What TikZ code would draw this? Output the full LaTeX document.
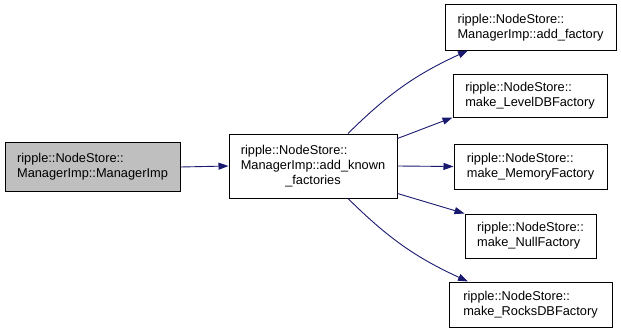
\documentclass[tikz,border=0pt]{standalone}
\usepackage{fontspec}
\setmainfont{Liberation Sans}
\usetikzlibrary{arrows.meta}
\definecolor{cedge}{HTML}{191970}
\definecolor{cgrey}{HTML}{BFBFBF}

\begin{document}
\begin{tikzpicture}[x=1pt,y=1pt,
  fn/.style={draw=black,fill=white,line width=1pt,align=left,
    font=\fontsize{12.8}{15}\selectfont,inner xsep=9pt,minimum height=45pt},
  call/.style={-{Triangle[length=10pt,width=7pt]},draw=cedge,line width=0.9pt}]
  \useasboundingbox (0,0) rectangle (621,333);
  \node[fn,fill=cgrey,minimum width=175pt,minimum height=49pt] (ctor) at (92.5,166)
    {ripple::NodeStore::\\ManagerImp::ManagerImp};
  \node[fn,minimum width=168pt,minimum height=64pt] (known) at (313,167)
    {\begin{tabular}{@{}l@{}}ripple::NodeStore::\\ManagerImp::add\_known\\
      \multicolumn{1}{@{}c@{}}{\_factories}\end{tabular}};
  \node[fn,minimum width=171pt] (fac) at (530.5,305.5) {ripple::NodeStore::\\ManagerImp::add\_factory};
  \node[fn,minimum width=154pt,minimum height=43pt] (leveldb) at (530,237.5) {ripple::NodeStore::\\make\_LevelDBFactory};
  \node[fn,minimum width=153pt] (memory) at (530.5,166.5) {ripple::NodeStore::\\make\_MemoryFactory};
  \node[fn,minimum width=131pt,minimum height=44pt] (null) at (530.5,97) {ripple::NodeStore::\\make\_NullFactory};
  \node[fn,minimum width=163pt] (rocks) at (530.5,28.5) {ripple::NodeStore::\\make\_RocksDBFactory};
  \draw[call] (ctor.east) -- (known.west);
  \draw[call] ([xshift=35pt]known.north) to[bend left=10] ([xshift=-62.5pt]fac.south);
  \draw[call] ([yshift=-5pt]known.north east) -- (leveldb.south west);
  \draw[call] (known.east) -- (memory.west);
  \draw[call] ([yshift=5pt]known.south east) -- (null.north west);
  \draw[call] ([xshift=35pt]known.south) to[bend right=10] ([xshift=-62.5pt]rocks.north);
\end{tikzpicture}
\end{document}
